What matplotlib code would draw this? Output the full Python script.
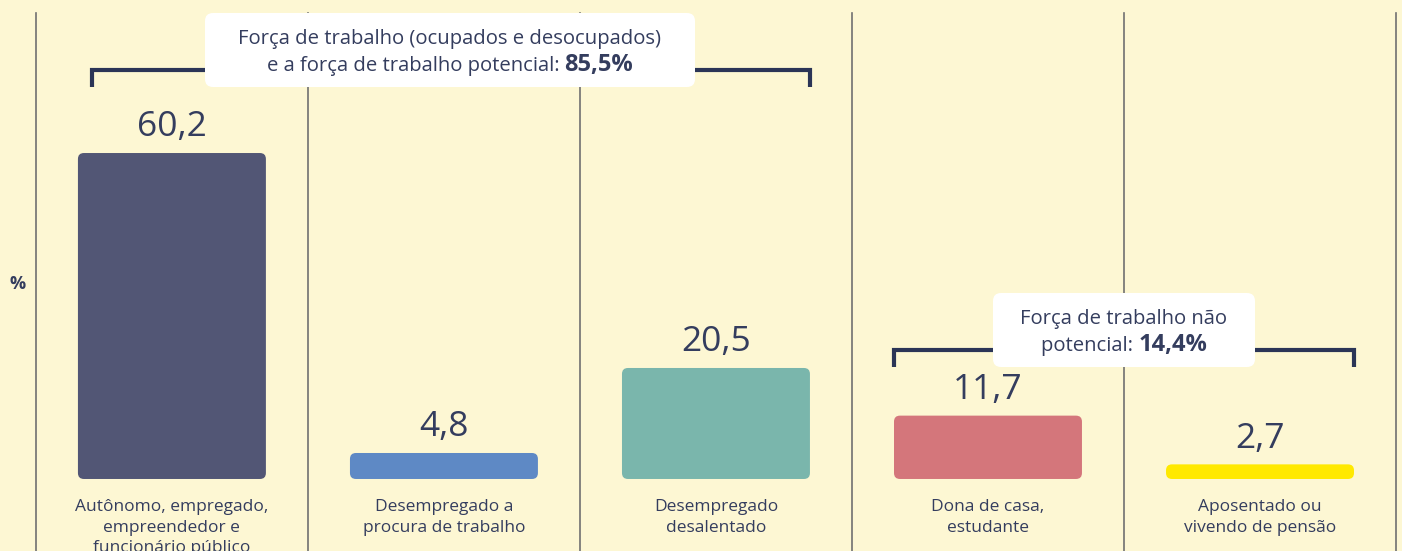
import matplotlib.pyplot as plt
from matplotlib.patches import FancyBboxPatch
from matplotlib.transforms import Affine2D

# data
categories = ["Autônomo, empregado,\nempreendedor e\nfuncionário público",
              "Desempregado a\nprocura de trabalho",
              "Desempregado\ndesalentado",
              "Dona de casa,\nestudante",
              "Aposentado ou\nvivendo de pensão"]
values = [60.2, 4.8, 20.5, 11.7, 2.7]
bar_colors = ["#525675", "#5E89C5", "#7AB6AC", "#D4767B", "#FFE900"]
groups = [(0, 2), (3, 4)]
group_text = ["Força de trabalho (ocupados e desocupados)", "Força de trabalho não"]
group_text2 = ["e a força de trabalho potencial: ", "potencial: "]
group_totals = ["85,5%", "14,4%"]

bg = "#FDF7D3"
txt = "#343D5E"
navy = "#2B3556"
W, H = 1402, 551

plt.rcParams['font.family'] = ['Open Sans', 'DejaVu Sans']

fig = plt.figure(figsize=(W / 100, H / 100), dpi=100)
fig.patch.set_facecolor(bg)
ax = fig.add_axes([0, 0, 1, 1])
ax.set_facecolor(bg)
ax.set_xlim(-0.632, 4.522)
ax.set_ylim(-13.3, 88.46)
ax.axis('off')

# pixel coords measured from top-left, for layout items
pix = Affine2D().scale(1 / W, -1 / H).translate(0, 1) + fig.transFigure

# separators
for i in range(len(values) + 1):
    ax.plot([i - 0.5, i - 0.5], [-13.3, 86.1], color="#707070", lw=1.2, zorder=1)

bw = 0.691
for i, (v, c) in enumerate(zip(values, bar_colors)):
    p = FancyBboxPatch((i - bw / 2, 0), bw, v,
                       boxstyle="round,pad=0,rounding_size=0.022",
                       mutation_aspect=50.2, fc=c, ec='none', zorder=3)
    ax.add_patch(p)
    ax.annotate(f"{v:.1f}".replace('.', ','), (i, v), xytext=(0, 12),
                textcoords='offset points', ha='center', va='baseline',
                fontsize=25.5, fontweight=500, color=txt, zorder=4)
    ax.text(i, 0, categories[i], ha='center', va='top', fontsize=12.5,
            fontweight=500, color=txt, linespacing=1.38,
            transform=ax.transData + Affine2D().translate(0, -20),
            zorder=4)

# brackets
bracket_y = [75.5, 23.8]
for (a, b), y in zip(groups, bracket_y):
    x0 = a - bw / 2 + 0.05 * (a == 0)
    x1 = b + bw / 2
    ax.plot([x0, x0, x1, x1], [y - 3.1, y, y, y - 3.1], color=navy, lw=3,
            solid_joinstyle='miter', solid_capstyle='butt', zorder=2)

# label boxes
boxes = [(205, 13, 490, 74), (993, 293, 262, 74)]
renderer = fig.canvas.get_renderer()
for k, (bx, by, bwid, bh) in enumerate(boxes):
    fig.patches.append(FancyBboxPatch((bx, by), bwid, bh,
                                      boxstyle="round,pad=0,rounding_size=8",
                                      fc="white", ec='none', transform=pix,
                                      zorder=5))
    cx = bx + bwid / 2
    fig.text(cx, by + 31, group_text[k], transform=pix, ha='center',
             va='baseline', fontsize=14.6, fontweight=500, color=txt, zorder=6)
    t1 = fig.text(0, 0, group_text2[k], transform=pix, ha='left',
                  va='baseline', fontsize=14.6, fontweight=500, color=txt,
                  zorder=6)
    t2 = fig.text(0, 0, group_totals[k], transform=pix, ha='left',
                  va='baseline', fontsize=17, fontweight='bold', color=txt,
                  zorder=6)
    w1 = t1.get_window_extent(renderer).width
    w2 = t2.get_window_extent(renderer).width
    x0 = cx - (w1 + w2) / 2
    t1.set_position((x0, by + 58))
    t2.set_position((x0 + w1, by + 58))

fig.text(18, 284, "%", transform=pix, ha='center', va='center',
         fontsize=13, fontweight='bold', color=txt)

fig.savefig("out.png", dpi=100, facecolor=bg)
